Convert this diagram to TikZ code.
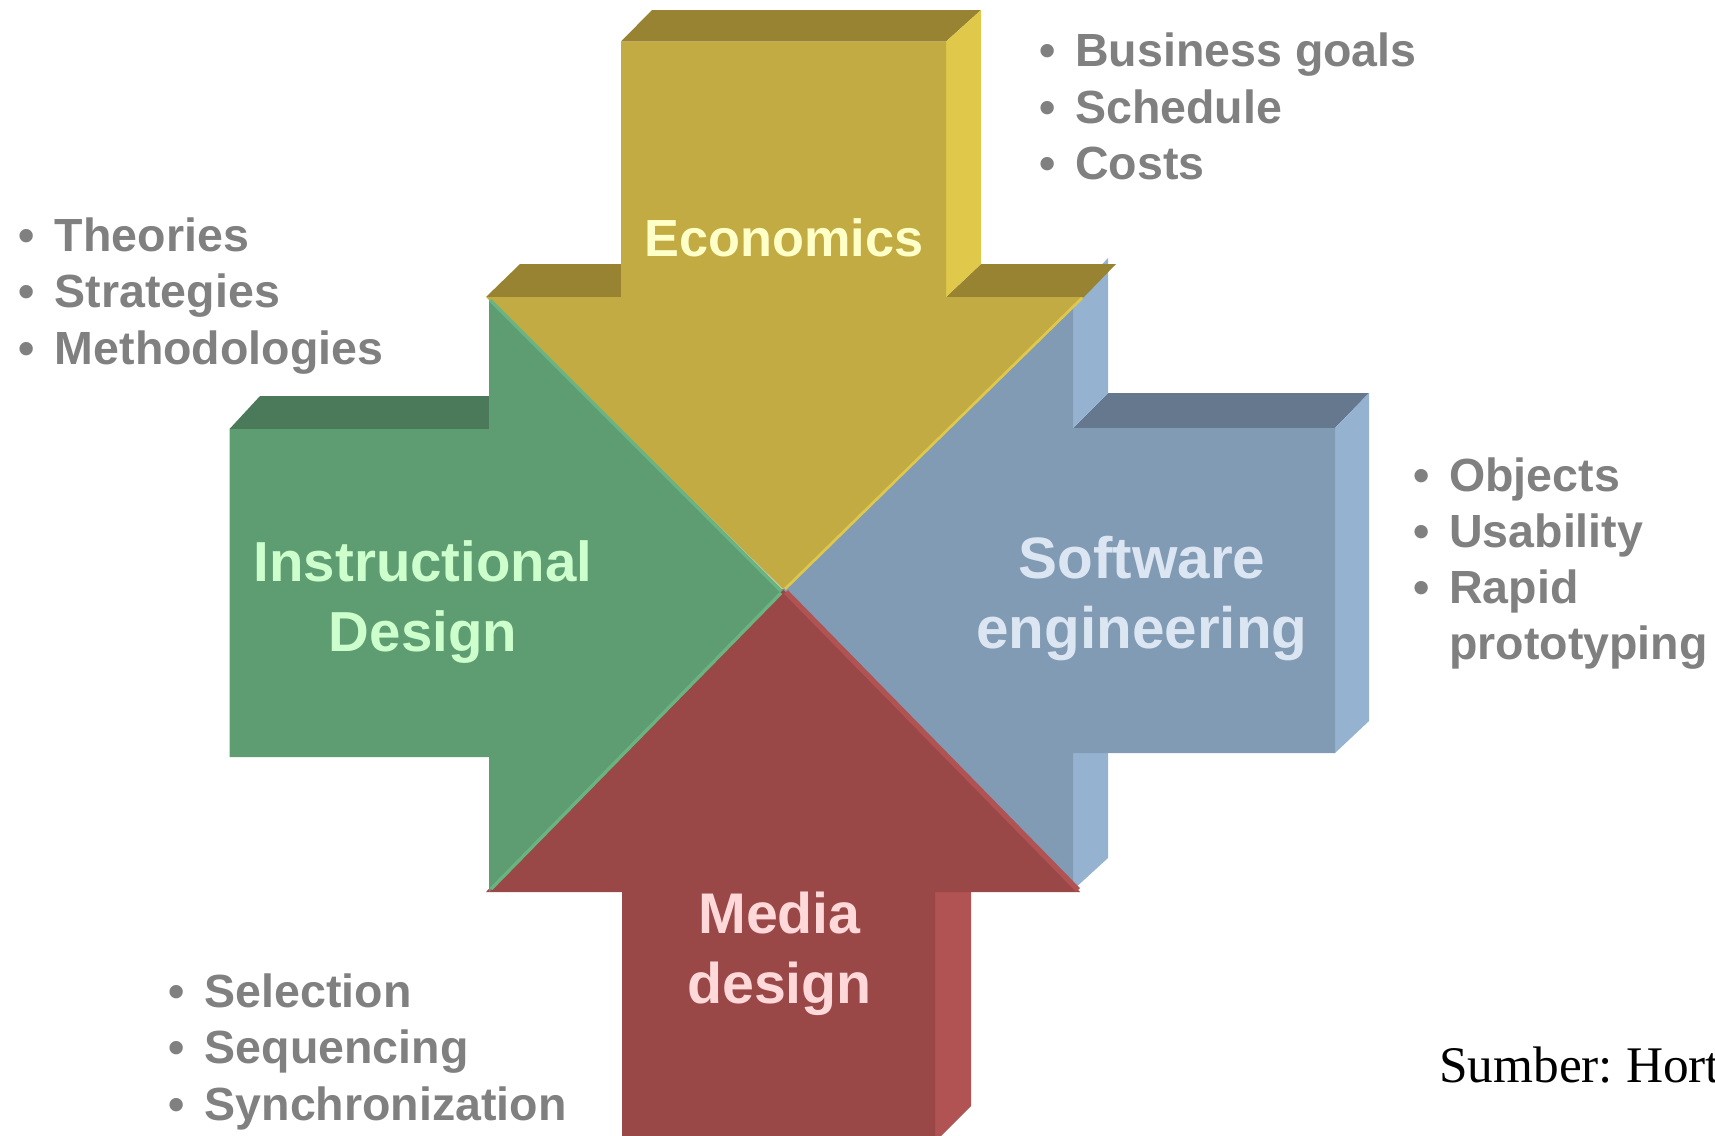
\documentclass[tikz,border=0pt]{standalone}
\usepackage{fontspec}
\setmainfont{Liberation Sans}
\newfontfamily\sourcefont{Liberation Serif}

\definecolor{ecoFront}{RGB}{194,171,66}
\definecolor{ecoTop}{RGB}{151,131,49}
\definecolor{ecoSide}{RGB}{223,200,74}
\definecolor{insFront}{RGB}{94,156,114}
\definecolor{insTop}{RGB}{75,122,90}
\definecolor{insLine}{RGB}{106,180,130}
\definecolor{sweFront}{RGB}{129,155,180}
\definecolor{sweTop}{RGB}{102,120,142}
\definecolor{sweSide}{RGB}{149,179,209}
\definecolor{medFront}{RGB}{154,71,72}
\definecolor{medSide}{RGB}{176,83,82}
\definecolor{ecoText}{RGB}{255,255,200}
\definecolor{insText}{RGB}{204,255,204}
\definecolor{sweText}{RGB}{220,230,242}
\definecolor{medText}{RGB}{255,217,217}
\definecolor{listGray}{RGB}{128,128,128}

\newcommand{\lbul}{\makebox[27pt][l]{•}}

\begin{document}
\begin{tikzpicture}[x=0.75pt,y=0.75pt,yscale=-1,xscale=1,
  listtext/.style={text=listGray, font=\fontsize{34.9}{42.2}\selectfont\bfseries, align=left, inner sep=0pt, anchor=base west},
  arrowlabel/.style={font=\fontsize{43}{52.3}\selectfont\bfseries, align=center, inner sep=0pt, anchor=base}]
\path[use as bounding box] (0,0) rectangle (1715,1135);

% software engineering (left arrow)
\fill[sweTop] (1073,428) -- (1108,393) -- (1369,393) -- (1335,428) -- cycle;
\fill[sweSide] (1335,428) -- (1369,393) -- (1369,721) -- (1335,753) -- cycle;
\fill[sweSide] (1073,296) -- (1108,258) -- (1108,393) -- (1073,428) -- cycle;
\fill[sweSide] (1073,753) -- (1108,721) -- (1108,858) -- (1073,890) -- cycle;
\fill[sweFront] (1335,428) -- (1335,753) -- (1073,753) -- (1073,890) -- (783,589) -- (1073,296) -- (1073,428) -- cycle;

% media design (up arrow)
\fill[medSide] (935,892) -- (971,858) -- (971,1106) -- (935,1142) -- cycle;
\fill[medFront] (622,1140) -- (622,892) -- (486,892) -- (783,589) -- (1080,892) -- (935,892) -- (935,1140) -- cycle;
\draw[medSide, line width=4] (786,592) -- (1078,890);

% instructional design (right arrow)
\fill[insTop] (229.5,429) -- (260,396) -- (520,396) -- (489,429) -- cycle;
\fill[insFront] (229.5,429) -- (489,429) -- (489,297) -- (783,590) -- (489,892) -- (489,757) -- (229.5,757) -- cycle;

% economics (down arrow)
\fill[ecoTop] (486,297) -- (520,264) -- (652,264) -- (621,297) -- cycle;
\fill[ecoTop] (946,297) -- (981,264) -- (1116,264) -- (1084,297) -- cycle;
\fill[ecoTop] (621,41.5) -- (652,10) -- (981,10) -- (946,41.5) -- cycle;
\fill[ecoSide] (946,41.5) -- (981,10) -- (981,264) -- (946,297) -- cycle;
\fill[ecoFront] (621,41.5) -- (946,41.5) -- (946,297) -- (1084,297) -- (783,589) -- (486,297) -- (621,297) -- cycle;

% edge highlights
\draw[insLine, line width=2.5] (490,300) -- (781,591);
\draw[insLine, line width=2.5] (781,593) -- (491,889);
\draw[ecoSide, line width=2] (1082,298) -- (785,589);

% labels (multi-line nodes: base = last line)
\node[arrowlabel, text=ecoText, font=\fontsize{39.2}{47}\selectfont\bfseries] (ecoLabel) at (784,256) {Economics};
\node[arrowlabel, text=insText, font=\fontsize{42.3}{52.3}\selectfont\bfseries] (insLabel) at (423,651.3) {Instructional\\Design};
\node[arrowlabel, text=sweText, font=\fontsize{43.8}{52.3}\selectfont\bfseries] (sweLabel) at (1142,648) {Software\\engineering};
\node[arrowlabel, text=medText] (medLabel) at (779.5,1003.7) {Media\\design};

\node[listtext] (ecoList) at (1039,179.3) {\lbul Business goals\\\lbul Schedule\\\lbul Costs};
\node[listtext] (insList) at (18.7,364.2) {\lbul Theories\\\lbul Strategies\\\lbul Methodologies};
\node[listtext] (sweList) at (1413,659.9) {\lbul Objects\\\lbul Usability\\\lbul Rapid\\\makebox[27pt]{}prototyping};
\node[listtext] (medList) at (168.5,1120) {\lbul Selection\\\lbul Sequencing\\\lbul Synchronization};

\node[font=\sourcefont\fontsize{38.5}{46}\selectfont\frenchspacing, anchor=base west, inner sep=0pt] (source) at (1439,1082) {Sumber: Hort};
\end{tikzpicture}
\end{document}
